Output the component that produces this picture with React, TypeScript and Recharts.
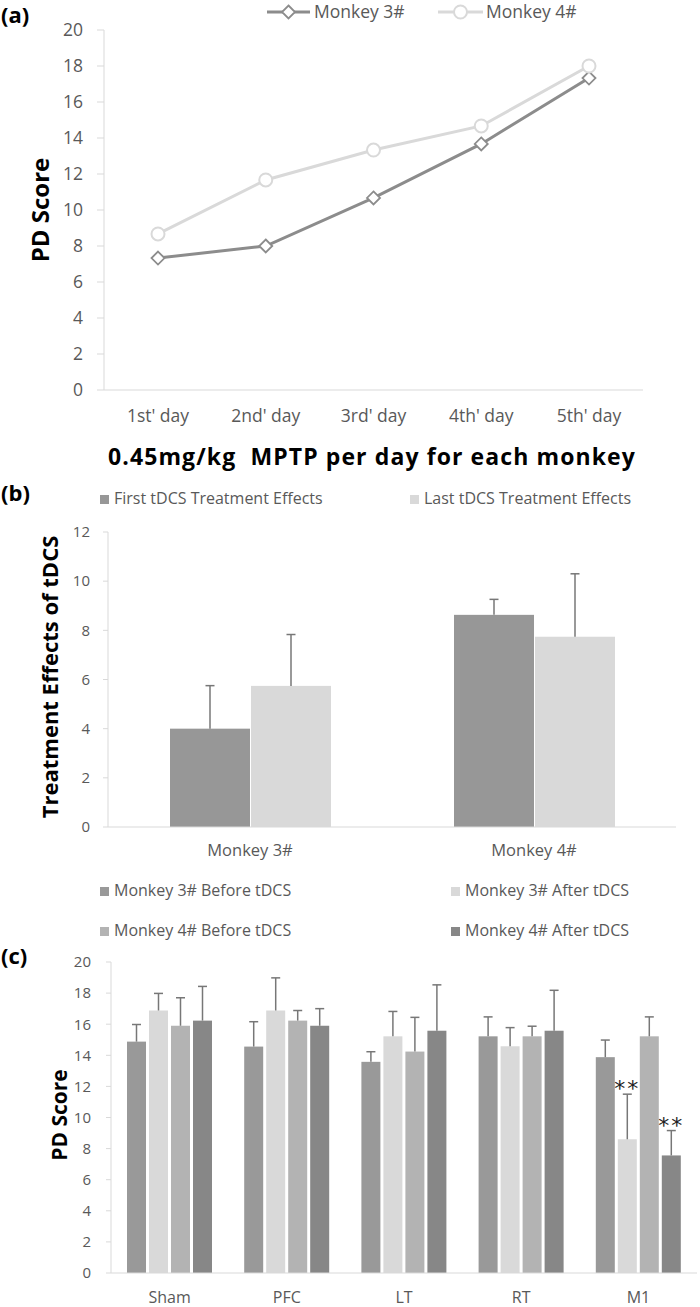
import React from "react";
import { LineChart, Line, BarChart, Bar, XAxis, YAxis } from "recharts";

// (a) PD score during MPTP induction
const days = ["1st' day", "2nd' day", "3rd' day", "4th' day", "5th' day"];
const monkey3Scores = [7.33, 8.0, 10.67, 13.67, 17.33];
const monkey4Scores = [8.67, 11.67, 13.33, 14.67, 18.0];

// (b) treatment effects
const monkeys = ["Monkey 3#", "Monkey 4#"];
const firstEffect = [4.0, 8.63];
const firstEffectErr = [1.75, 0.63];
const lastEffect = [5.74, 7.74];
const lastEffectErr = [2.09, 2.56];

// (c) PD score by stimulation site
const sites = ["Sham", "PFC", "LT", "RT", "M1"];
const m3Before = [14.88, 14.56, 13.58, 15.22, 13.88];
const m3BeforeErr = [1.1, 1.6, 0.65, 1.25, 1.1];
const m3After = [16.88, 16.88, 15.22, 14.58, 8.6];
const m3AfterErr = [1.1, 2.1, 1.6, 1.2, 2.9];
const m4Before = [15.9, 16.23, 14.24, 15.22, 15.22];
const m4BeforeErr = [1.8, 0.65, 2.2, 0.65, 1.25];
const m4After = [16.23, 15.9, 15.58, 15.58, 7.56];
const m4AfterErr = [2.2, 1.1, 2.95, 2.6, 1.6];
const m3AfterSig = ["", "", "", "", "**"];
const m4AfterSig = ["", "", "", "", "**"];

const yTicksA = [0, 2, 4, 6, 8, 10, 12, 14, 16, 18, 20];
const yTicksB = [0, 2, 4, 6, 8, 10, 12];

const FONT = "'Open Sans', sans-serif";
const TICK = "#595959";
const AXIS = "#d9d9d9";
const ERR = "#777777";

const C_M3B = "#999999";
const C_M3A = "#d9d9d9";
const C_M4B = "#b3b3b3";
const C_M4A = "#878787";
const C_FIRST = "#979797";
const C_LAST = "#d9d9d9";

const lineData = days.map((day, i) => ({ day, m3: monkey3Scores[i], m4: monkey4Scores[i] }));

const effectData = monkeys.map((monkey, i) => ({
  monkey,
  first: firstEffect[i],
  firstErr: firstEffectErr[i],
  last: lastEffect[i],
  lastErr: lastEffectErr[i],
}));

const siteData = sites.map((site, i) => ({
  site,
  m3b: m3Before[i],
  m3bErr: m3BeforeErr[i],
  m3a: m3After[i],
  m3aErr: m3AfterErr[i],
  m3aSig: m3AfterSig[i],
  m4b: m4Before[i],
  m4bErr: m4BeforeErr[i],
  m4a: m4After[i],
  m4aErr: m4AfterErr[i],
  m4aSig: m4AfterSig[i],
}));

function Diamond(props: any) {
  const { cx, cy } = props;
  if (cx == null || cy == null) return null;
  const r = 6.5;
  return (
    <path
      d={`M${cx},${cy - r}L${cx + r},${cy}L${cx},${cy + r}L${cx - r},${cy}Z`}
      fill="#fff"
      stroke="#8c8c8c"
      strokeWidth={1.8}
    />
  );
}

// bar + upward error bar (+ optional significance mark)
function ErrBar(props: any) {
  const { x, y, width, height, fill, payload, valKey, errKey, sigKey } = props;
  const v = payload[valKey];
  const e = payload[errKey];
  const cx = x + width / 2;
  const top = y - (e * height) / v;
  const sig = sigKey ? payload[sigKey] : "";
  return (
    <g>
      <rect x={x} y={y} width={width} height={height} fill={fill} />
      <line x1={cx} y1={y} x2={cx} y2={top} stroke={ERR} strokeWidth={1.5} />
      <line x1={cx - 4.5} y1={top} x2={cx + 4.5} y2={top} stroke={ERR} strokeWidth={1.5} />
      {sig ? (
        <text x={cx} y={top + 2} textAnchor="middle" fontSize={22} fontFamily="'DejaVu Sans'" fill="#222" letterSpacing={2}>
          {sig}
        </text>
      ) : null}
    </g>
  );
}

function Swatch({ x, y, color, label }: any) {
  return (
    <g>
      <rect x={x} y={y - 9} width={9} height={9} fill={color} />
      <text x={x + 14} y={y} fontSize={16} fontFamily={FONT} fill={TICK}>
        {label}
      </text>
    </g>
  );
}

function Overlay() {
  return (
    <svg width={700} height={1307} style={{ position: "absolute", left: 0, top: 0, pointerEvents: "none" }}>
      {/* panel letters */}
      <text x={1} y={23} fontSize={22} fontWeight="bold" fontFamily={FONT} fill="#000">(a)</text>
      <text x={1} y={501} fontSize={22} fontWeight="bold" fontFamily={FONT} fill="#000">(b)</text>
      <text x={1} y={964} fontSize={22} fontWeight="bold" fontFamily={FONT} fill="#000">(c)</text>

      {/* (a) legend */}
      <line x1={267} y1={12} x2={310} y2={12} stroke="#8c8c8c" strokeWidth={3} />
      <Diamond cx={288.5} cy={12} />
      <text x={314} y={18} fontSize={17.5} fontFamily={FONT} fill={TICK}>Monkey 3#</text>
      <line x1={438} y1={12} x2={483} y2={12} stroke="#d9d9d9" strokeWidth={3} />
      <circle cx={460.5} cy={12} r={6.5} fill="#fff" stroke="#d9d9d9" strokeWidth={2} />
      <text x={486} y={18} fontSize={17.5} fontFamily={FONT} fill={TICK}>Monkey 4#</text>

      {/* (a) axis titles */}
      <text x={49} y={210} transform="rotate(-90 49 210)" textAnchor="middle" fontSize={24} fontWeight="bold" fontFamily={FONT} fill="#000">
        PD Score
      </text>
      <text x={372} y={465} textAnchor="middle" fontSize={23} fontWeight="bold" fontFamily={FONT} fill="#000" letterSpacing={1.1} style={{ whiteSpace: "pre" }}>
        {"0.45mg/kg  MPTP per day for each monkey"}
      </text>

      {/* (b) legend + title */}
      <Swatch x={100} y={504} color={C_FIRST} label="First tDCS Treatment Effects" />
      <Swatch x={410} y={504} color={C_LAST} label="Last tDCS Treatment Effects" />
      <text x={58} y={677} transform="rotate(-90 58 677)" textAnchor="middle" fontSize={22} fontWeight="bold" fontFamily={FONT} fill="#000">
        Treatment Effects of tDCS
      </text>

      {/* (c) legend + title */}
      <Swatch x={100} y={896} color={C_M3B} label="Monkey 3# Before tDCS" />
      <Swatch x={451} y={896} color={C_M3A} label="Monkey 3# After tDCS" />
      <Swatch x={100} y={936} color={C_M4B} label="Monkey 4# Before tDCS" />
      <Swatch x={451} y={936} color={C_M4A} label="Monkey 4# After tDCS" />
      <text x={67} y={1115} transform="rotate(-90 67 1115)" textAnchor="middle" fontSize={21} fontWeight="bold" fontFamily={FONT} fill="#000">
        PD Score
      </text>
    </svg>
  );
}

export default function App() {
  return (
    <div style={{ position: "absolute", left: 0, top: 0, width: 700, height: 1307, background: "#fff" }}>
      <div style={{ position: "absolute", left: 0, top: 0 }}>
        <LineChart width={700} height={450} data={lineData} margin={{ top: 30, right: 57, left: 44, bottom: 10 }}>
          <XAxis
            xAxisId="edge"
            type="number"
            domain={[0, 5]}
            ticks={[0, 1, 2, 3, 4, 5]}
            allowDataOverflow
            height={1}
            tick={false}
            axisLine={false}
            tickSize={7}
            tickLine={{ stroke: AXIS }}
          />
          <XAxis
            dataKey="day"
            height={49}
            padding={{ left: 54, right: 54 }}
            tickLine={false}
            tickSize={6}
            tickMargin={14}
            axisLine={{ stroke: AXIS }}
            tick={{ fill: TICK, fontSize: 17.5, fontFamily: FONT }}
          />
          <YAxis
            width={60}
            domain={[0, 20]}
            ticks={yTicksA}
            tickSize={7}
            tickMargin={14}
            axisLine={{ stroke: AXIS }}
            tickLine={{ stroke: AXIS }}
            tick={{ fill: TICK, fontSize: 17.5, fontFamily: FONT }}
          />
          <Line dataKey="m3" stroke="#8c8c8c" strokeWidth={3} dot={<Diamond />} activeDot={false} isAnimationActive={false} />
          <Line
            dataKey="m4"
            stroke="#d9d9d9"
            strokeWidth={3}
            dot={{ r: 6.5, fill: "#fff", stroke: "#d9d9d9", strokeWidth: 2 }}
            activeDot={false}
            isAnimationActive={false}
          />
        </LineChart>
      </div>

      <div style={{ position: "absolute", left: 0, top: 510 }}>
        <BarChart width={700} height={370} data={effectData} margin={{ top: 22, right: 24, left: 48, bottom: 17 }} barCategoryGap={62} barGap={1}>
          <XAxis
            xAxisId="edge"
            type="number"
            domain={[0, 2]}
            ticks={[0, 1, 2]}
            allowDataOverflow
            height={1}
            tick={false}
            axisLine={false}
            tickSize={6}
            tickLine={{ stroke: AXIS }}
          />
          <XAxis
            dataKey="monkey"
            height={35}
            tickLine={false}
            tickSize={6}
            tickMargin={11}
            axisLine={{ stroke: AXIS }}
            tick={{ fill: TICK, fontSize: 16.5, fontFamily: FONT }}
          />
          <YAxis
            width={60}
            domain={[0, 12]}
            ticks={yTicksB}
            tickSize={5}
            tickMargin={13}
            axisLine={{ stroke: AXIS }}
            tickLine={{ stroke: AXIS }}
            tick={{ fill: TICK, fontSize: 15, fontFamily: FONT }}
          />
          <Bar dataKey="first" fill={C_FIRST} isAnimationActive={false} shape={(p: any) => <ErrBar {...p} valKey="first" errKey="firstErr" />} />
          <Bar dataKey="last" fill={C_LAST} isAnimationActive={false} shape={(p: any) => <ErrBar {...p} valKey="last" errKey="lastErr" />} />
        </BarChart>
      </div>

      <div style={{ position: "absolute", left: 0, top: 940 }}>
        <BarChart width={700} height={367} data={siteData} margin={{ top: 22, right: 3, left: 50, bottom: 3 }} barCategoryGap={16} barGap={3}>
          <XAxis
            xAxisId="edge"
            type="number"
            domain={[0, 5]}
            ticks={[0, 1, 2, 3, 4, 5]}
            allowDataOverflow
            height={1}
            tick={false}
            axisLine={false}
            tickSize={6}
            tickLine={{ stroke: AXIS }}
          />
          <XAxis
            dataKey="site"
            height={30}
            tickLine={false}
            tickSize={6}
            tickMargin={13}
            axisLine={{ stroke: AXIS }}
            tick={{ fill: TICK, fontSize: 16, fontFamily: FONT }}
          />
          <YAxis
            width={61}
            domain={[0, 20]}
            ticks={yTicksA}
            tickSize={5}
            tickMargin={15}
            axisLine={{ stroke: AXIS }}
            tickLine={{ stroke: AXIS }}
            tick={{ fill: TICK, fontSize: 15, fontFamily: FONT }}
          />
          <Bar dataKey="m3b" fill={C_M3B} isAnimationActive={false} shape={(p: any) => <ErrBar {...p} valKey="m3b" errKey="m3bErr" />} />
          <Bar dataKey="m3a" fill={C_M3A} isAnimationActive={false} shape={(p: any) => <ErrBar {...p} valKey="m3a" errKey="m3aErr" sigKey="m3aSig" />} />
          <Bar dataKey="m4b" fill={C_M4B} isAnimationActive={false} shape={(p: any) => <ErrBar {...p} valKey="m4b" errKey="m4bErr" />} />
          <Bar dataKey="m4a" fill={C_M4A} isAnimationActive={false} shape={(p: any) => <ErrBar {...p} valKey="m4a" errKey="m4aErr" sigKey="m4aSig" />} />
        </BarChart>
      </div>

      <Overlay />
    </div>
  );
}
